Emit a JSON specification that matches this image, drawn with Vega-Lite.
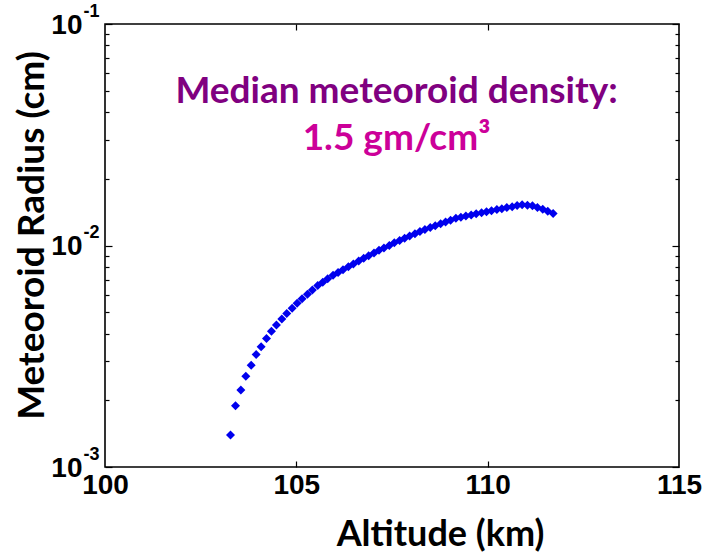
{
  "$schema": "https://vega.github.io/schema/vega-lite/v6.json",
  "width": 574,
  "height": 443,
  "autosize": {"type": "none"},
  "padding": {"left": 105, "top": 24, "right": 31, "bottom": 87},
  "background": "white",
  "config": {
    "view": {"stroke": "black", "strokeWidth": 1.6},
    "axis": {"domain": false, "grid": false, "labelFlush": false, "labelOverlap": false}
  },
  "datasets": {
    "pts": [
      {"alt": 103.28, "r": 0.001393}, {"alt": 103.41, "r": 0.001892}, {"alt": 103.55, "r": 0.002228},
      {"alt": 103.68, "r": 0.00257}, {"alt": 103.82, "r": 0.002877}, {"alt": 103.95, "r": 0.003221},
      {"alt": 104.08, "r": 0.003491}, {"alt": 104.22, "r": 0.003802}, {"alt": 104.35, "r": 0.004102},
      {"alt": 104.48, "r": 0.004375}, {"alt": 104.62, "r": 0.004656}, {"alt": 104.75, "r": 0.004932},
      {"alt": 104.89, "r": 0.005212}, {"alt": 105.02, "r": 0.005483}, {"alt": 105.15, "r": 0.005754},
      {"alt": 105.29, "r": 0.006026}, {"alt": 105.42, "r": 0.006295}, {"alt": 105.56, "r": 0.006592},
      {"alt": 105.69, "r": 0.006823}, {"alt": 105.82, "r": 0.007079}, {"alt": 105.96, "r": 0.007345},
      {"alt": 106.09, "r": 0.007551}, {"alt": 106.22, "r": 0.00778}, {"alt": 106.36, "r": 0.008017},
      {"alt": 106.49, "r": 0.008241}, {"alt": 106.63, "r": 0.008511}, {"alt": 106.76, "r": 0.00875},
      {"alt": 106.89, "r": 0.008995}, {"alt": 107.03, "r": 0.009247}, {"alt": 107.16, "r": 0.009506},
      {"alt": 107.29, "r": 0.00975}, {"alt": 107.43, "r": 0.01}, {"alt": 107.56, "r": 0.01028},
      {"alt": 107.7, "r": 0.01054}, {"alt": 107.83, "r": 0.01079}, {"alt": 107.96, "r": 0.01104},
      {"alt": 108.1, "r": 0.0113}, {"alt": 108.23, "r": 0.01156}, {"alt": 108.36, "r": 0.0118},
      {"alt": 108.5, "r": 0.01205}, {"alt": 108.63, "r": 0.01227}, {"alt": 108.77, "r": 0.01253},
      {"alt": 108.9, "r": 0.01276}, {"alt": 109.03, "r": 0.013}, {"alt": 109.17, "r": 0.01327},
      {"alt": 109.3, "r": 0.01343}, {"alt": 109.43, "r": 0.01358}, {"alt": 109.57, "r": 0.01374},
      {"alt": 109.7, "r": 0.0139}, {"alt": 109.84, "r": 0.01406}, {"alt": 109.97, "r": 0.01422},
      {"alt": 110.1, "r": 0.01436}, {"alt": 110.24, "r": 0.01452}, {"alt": 110.37, "r": 0.01466},
      {"alt": 110.5, "r": 0.01483}, {"alt": 110.64, "r": 0.01496}, {"alt": 110.77, "r": 0.01514},
      {"alt": 110.9, "r": 0.01528}, {"alt": 111.04, "r": 0.01521}, {"alt": 111.17, "r": 0.0151},
      {"alt": 111.3, "r": 0.01486}, {"alt": 111.44, "r": 0.01459}, {"alt": 111.57, "r": 0.01429},
      {"alt": 111.71, "r": 0.01393}
    ],
    "notes": [
      {"text": "Median meteoroid density:", "x": 107.62, "y": 0.04397, "kind": "a"},
      {"text": "1.5 gm/cm³", "x": 107.62, "y": 0.02699, "kind": "b"}
    ]
  },
  "resolve": {"axis": {"x": "independent", "y": "independent"}},
  "layer": [
    {
      "data": {"name": "pts"},
      "mark": {"type": "point", "shape": "diamond", "filled": true, "size": 81, "color": "#0000ee", "opacity": 1},
      "encoding": {
        "x": {
          "field": "alt", "type": "quantitative",
          "scale": {"domain": [100, 115], "nice": false, "zero": false},
          "axis": {
            "orient": "bottom", "values": [100, 105, 110, 115], "ticks": false, "format": "d",
            "labelFont": "Liberation Sans", "labelFontWeight": "bold", "labelFontSize": 28, "labelColor": "black",
            "labelPadding": 4,
            "title": "Altitude (km)", "titleFont": "Lato", "titleFontWeight": "bold", "titleFontSize": 36,
            "titleColor": "black", "titleBaseline": "alphabetic", "titleAlign": "center", "titleAnchor": "middle",
            "titleX": 335, "titleY": 78
          }
        },
        "y": {
          "field": "r", "type": "quantitative",
          "scale": {"type": "log", "domain": [0.001, 0.1], "nice": false},
          "axis": {
            "orient": "left", "values": [0.001, 0.01, 0.1], "ticks": false,
            "labelExpr": "'10'",
            "labelFont": "Liberation Sans", "labelFontWeight": "bold", "labelFontSize": 28, "labelColor": "black",
            "labelPadding": 23, "labelBaseline": "middle", "labelOffset": 1,
            "title": "Meteoroid Radius (cm)", "titleFont": "Lato", "titleFontWeight": "bold", "titleFontSize": 37,
            "titleColor": "black", "titleBaseline": "alphabetic", "titleAlign": "center", "titleAnchor": "middle",
            "titleAngle": -90, "titleX": -62, "titleY": 211
          }
        }
      }
    },
    {
      "data": {"name": "pts"},
      "mark": {"type": "point", "opacity": 0},
      "encoding": {
        "x": {
          "field": "alt", "type": "quantitative",
          "scale": {"domain": [100, 115], "nice": false, "zero": false},
          "axis": {"orient": "top", "values": [105, 110], "labels": false, "tickSize": -6, "tickColor": "black", "tickWidth": 1.2, "title": null}
        },
        "y": {
          "field": "r", "type": "quantitative",
          "scale": {"type": "log", "domain": [0.001, 0.1], "nice": false},
          "axis": {
            "orient": "left", "values": [0.001, 0.01, 0.1], "ticks": false,
            "labelExpr": "'' + round(log(datum.value) / LN10)",
            "labelFont": "Liberation Sans", "labelFontWeight": "bold", "labelFontSize": 18, "labelColor": "black",
            "labelPadding": 6, "labelBaseline": "middle", "labelOffset": -13, "title": null
          }
        }
      }
    },
    {
      "data": {"name": "pts"},
      "mark": {"type": "point", "opacity": 0},
      "encoding": {
        "x": {
          "field": "alt", "type": "quantitative",
          "scale": {"domain": [100, 115], "nice": false, "zero": false},
          "axis": {"orient": "bottom", "values": [105, 110], "labels": false, "tickSize": -6, "tickColor": "black", "tickWidth": 1.2, "title": null}
        },
        "y": {
          "field": "r", "type": "quantitative",
          "scale": {"type": "log", "domain": [0.001, 0.1], "nice": false},
          "axis": {
            "orient": "left",
            "values": [0.001, 0.002, 0.003, 0.004, 0.005, 0.006, 0.007, 0.008, 0.009, 0.01, 0.02, 0.03, 0.04, 0.05, 0.06, 0.07, 0.08, 0.09, 0.1],
            "labels": false, "tickColor": "black", "tickWidth": 1.2,
            "tickSize": {"condition": {"test": "abs(log(datum.value)/LN10 - round(log(datum.value)/LN10)) < 0.001", "value": -7}, "value": -4},
            "title": null
          }
        }
      }
    },
    {
      "data": {"name": "pts"},
      "mark": {"type": "point", "opacity": 0},
      "encoding": {
        "x": {
          "field": "alt", "type": "quantitative",
          "scale": {"domain": [100, 115], "nice": false, "zero": false},
          "axis": null
        },
        "y": {
          "field": "r", "type": "quantitative",
          "scale": {"type": "log", "domain": [0.001, 0.1], "nice": false},
          "axis": {
            "orient": "right",
            "values": [0.001, 0.002, 0.003, 0.004, 0.005, 0.006, 0.007, 0.008, 0.009, 0.01, 0.02, 0.03, 0.04, 0.05, 0.06, 0.07, 0.08, 0.09, 0.1],
            "labels": false, "tickColor": "black", "tickWidth": 1.2,
            "tickSize": {"condition": {"test": "abs(log(datum.value)/LN10 - round(log(datum.value)/LN10)) < 0.001", "value": -7}, "value": -4},
            "title": null
          }
        }
      }
    },
    {
      "data": {"name": "notes"},
      "mark": {"type": "text", "font": "Lato", "fontWeight": "bold", "fontSize": 37, "align": "center", "baseline": "alphabetic"},
      "encoding": {
        "x": {"field": "x", "type": "quantitative", "scale": {"domain": [100, 115], "nice": false, "zero": false}, "axis": null},
        "y": {"field": "y", "type": "quantitative", "scale": {"type": "log", "domain": [0.001, 0.1], "nice": false}, "axis": null},
        "text": {"field": "text"},
        "color": {"field": "kind", "type": "nominal", "scale": {"domain": ["a", "b"], "range": ["#800080", "#cc0099"]}, "legend": null}
      }
    }
  ]
}
